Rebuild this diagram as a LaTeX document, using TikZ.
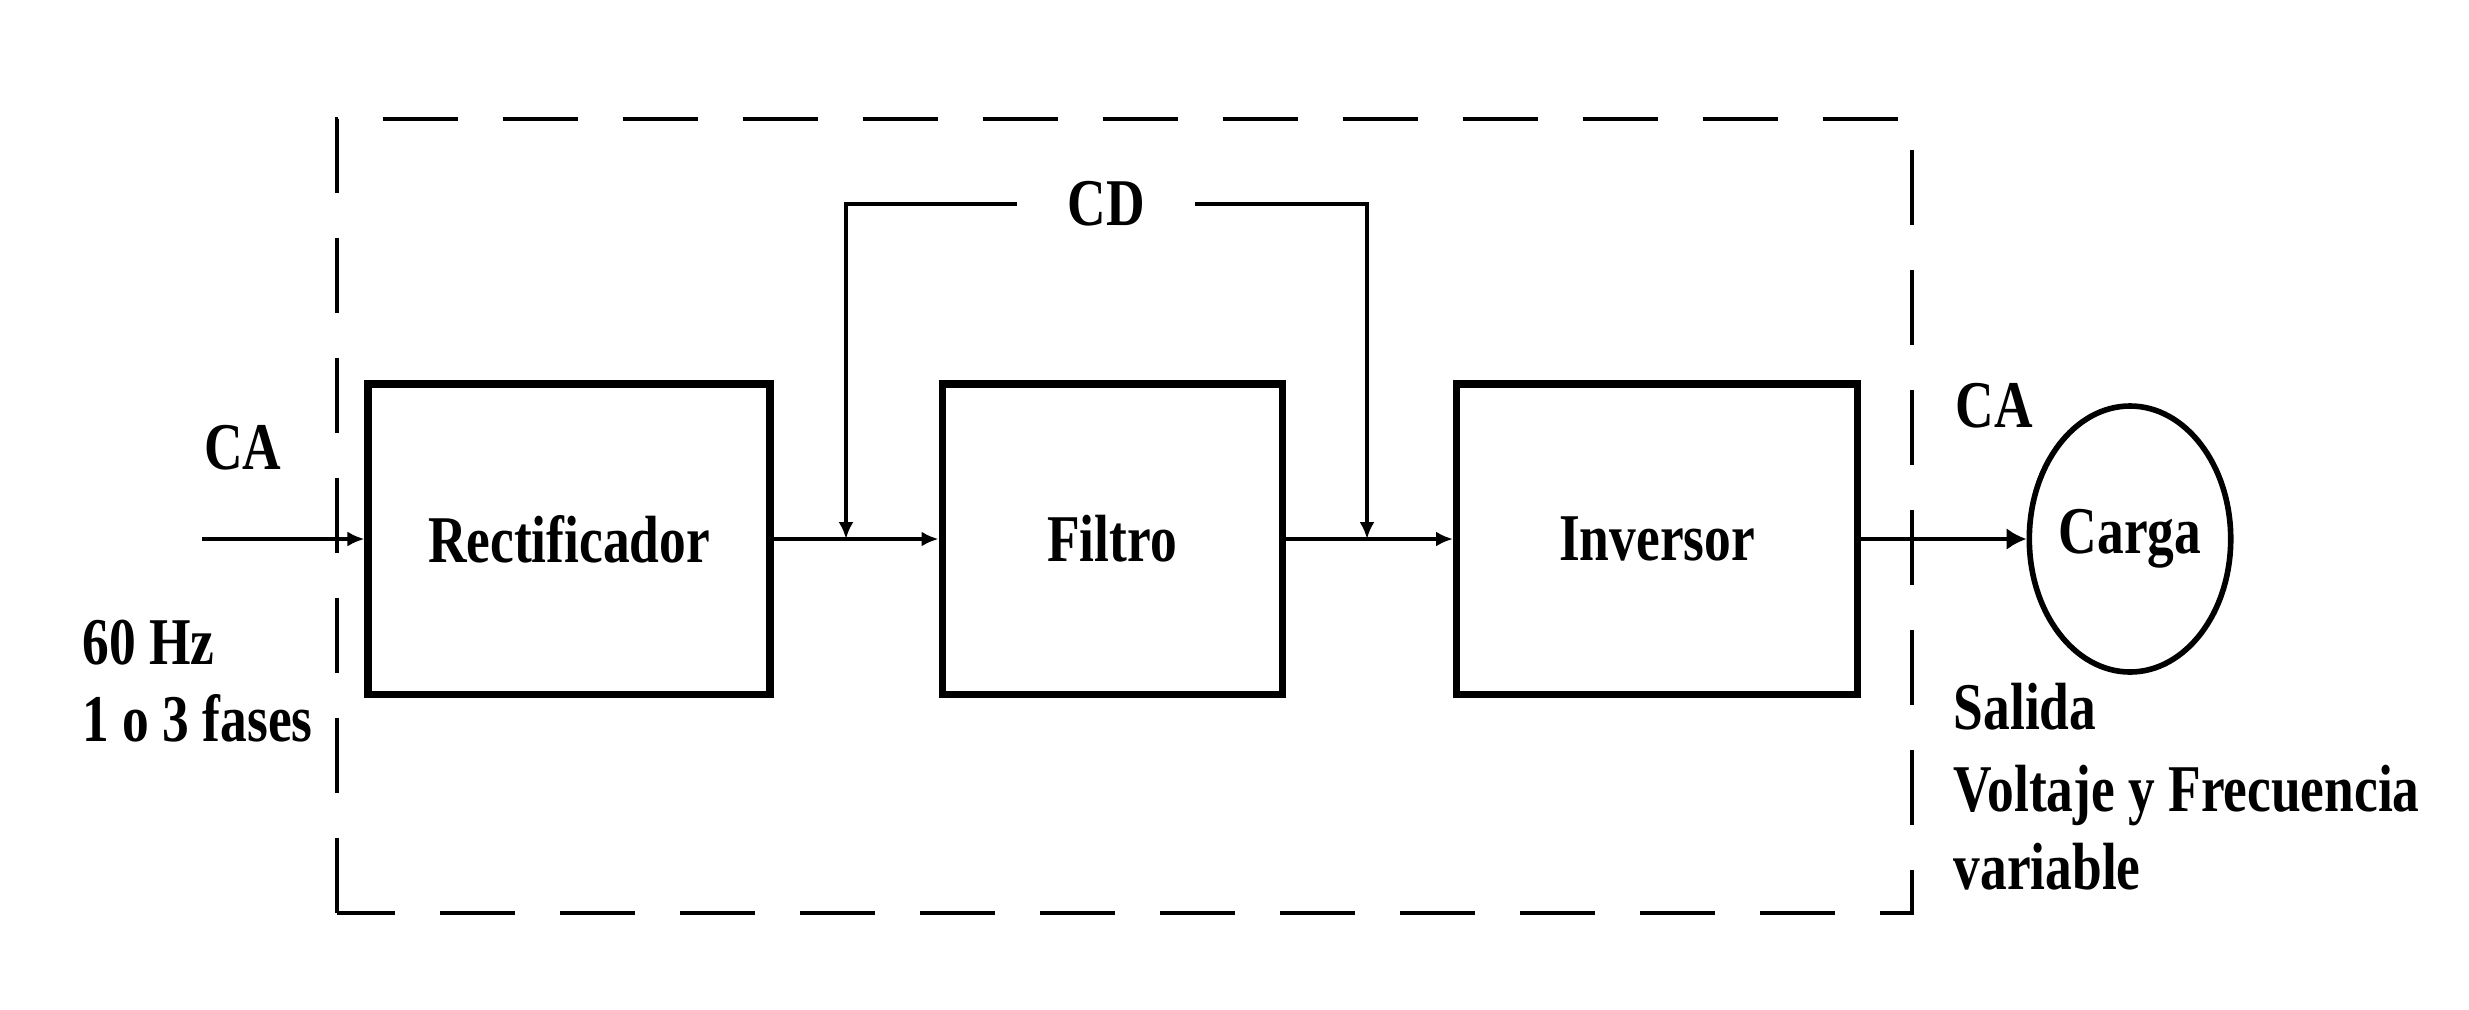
\documentclass[tikz,border=0pt]{standalone}
\usepackage{fontspec}
\setmainfont[FakeStretch=0.8]{Liberation Serif}
\usetikzlibrary{arrows.meta,shapes.geometric}
\begin{document}
\begin{tikzpicture}[every node/.style={font=\fontsize{19}{22}\selectfont\bfseries}, blockStyle/.style={rectangle, draw, line width=2pt, minimum height=3.1cm}, loadStyle/.style={ellipse, draw, line width=1.6pt, minimum width=1.97cm, minimum height=2.66cm, inner sep=0pt}, wireStyle/.style={line width=1.1pt, -{Latex[length=0.17cm,width=0.15cm]}}, frameStyle/.style={line width=1pt, dash pattern=on 0.75cm off 0.45cm}]
                    \useasboundingbox (0, 0) rectangle (24.69, 10.09);

                    \draw[frameStyle] (3.37, 0.96) rectangle (19.12, 8.90);

                    \node[blockStyle, minimum width=4.02cm] (rect) at ( 5.69, 4.70) {Rectificador};
                    \node[blockStyle, minimum width=3.40cm] (filt) at (11.12, 4.70) {Filtro};
                    \node[blockStyle, minimum width=4.01cm] (inv)  at (16.57, 4.70) {Inversor};
                    \node[loadStyle] (load) at (21.30, 4.70) {Carga};

                    \coordinate (in_0) at (2.02, 4.70);
                    \coordinate (dc_0) at (8.46, 4.70);
                    \coordinate (dc_1) at (13.67, 4.70);
                    \node[inner xsep=0.5cm] (cd) at (11.06, 8.05) {CD};

                    \node[anchor=base] (ca_in)  at ( 2.43, 5.40) {CA};
                    \node[anchor=base west, inner xsep=0pt] (in_1) at (0.82, 3.45) {60 Hz};
                    \node[anchor=base west, inner xsep=0pt] (in_2) at (0.82, 2.68) {1 o 3 fases};

                    \node[anchor=base west, inner xsep=0pt] (ca_out) at (19.55, 5.82) {CA};
                    \node[anchor=base west, inner xsep=0pt] (out_1) at (19.53, 2.80) {Salida};
                    \node[anchor=base west, inner xsep=0pt] (out_2) at (19.53, 1.98) {Voltaje y Frecuencia};
                    \node[anchor=base west, inner xsep=0pt] (out_3) at (19.53, 1.20) {variable};

                    \draw[wireStyle] (in_0) -- (rect.west);
                    \draw[wireStyle] (rect.east) -- (filt.west);
                    \draw[wireStyle] (filt.east) -- (inv.west);
                    \draw[wireStyle, -{Latex[length=0.2cm,width=0.22cm]}] (inv.east) -- (load.west);
                    \draw[wireStyle] (cd.west) -| (dc_0);
                    \draw[wireStyle] (cd.east) -| (dc_1);
                \end{tikzpicture}
\end{document}
